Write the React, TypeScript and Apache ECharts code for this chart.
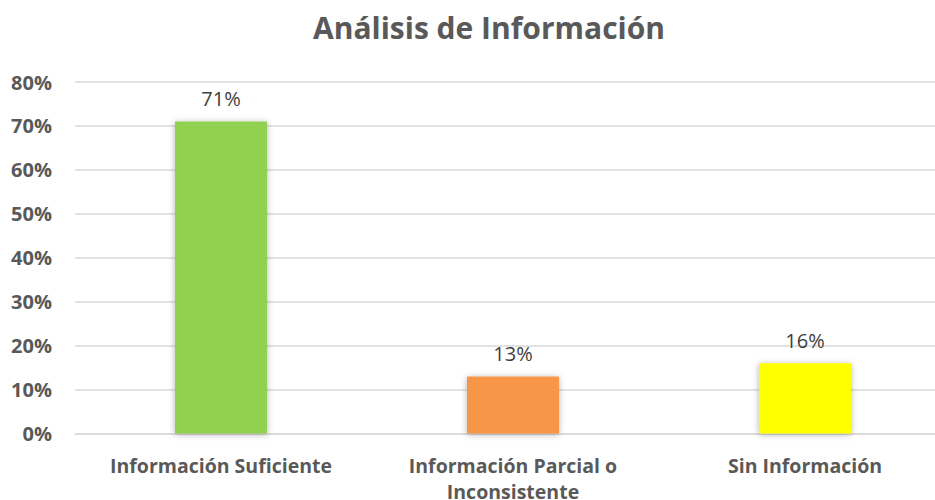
import React, { useEffect, useRef } from "react";
import * as echarts from "echarts";

const categories = ["Información Suficiente", "Información Parcial o\nInconsistente", "Sin Información"];
const values = [71, 13, 16];
const barColors = ["#92D050", "#F79646", "#FFFF00"];
const yTicks = [0, 10, 20, 30, 40, 50, 60, 70, 80];

export default function App() {
  const ref = useRef<HTMLDivElement>(null);
  useEffect(() => {
    const chart = echarts.init(ref.current!, null, { renderer: "svg" });
    chart.setOption({
      animation: false,
      title: {
        text: "Análisis de Información",
        left: 484,
        textAlign: "center",
        top: 7,
        textStyle: { fontFamily: "Open Sans", fontWeight: "bold", fontSize: 30, color: "#595959" },
      },
      grid: { left: 75, top: 82, width: 876, height: 351.5, outerBoundsMode: "none", containLabel: false },
      xAxis: {
        type: "category",
        data: categories,
        axisTick: { show: false },
        axisLine: { lineStyle: { color: "#D9D9D9", width: 1.5 } },
        axisLabel: {
          interval: 0,
          margin: 19,
          fontFamily: "Open Sans",
          fontWeight: "bold",
          fontSize: 19.5,
          color: "#595959",
          lineHeight: 26,
        },
      },
      yAxis: {
        type: "value",
        min: yTicks[0],
        max: yTicks[yTicks.length - 1],
        interval: 10,
        axisLine: { show: false },
        axisTick: { show: false },
        splitLine: { lineStyle: { color: "#D9D9D9", width: 1.5 } },
        axisLabel: {
          formatter: "{value}%",
          margin: 23,
          fontFamily: "Open Sans",
          fontWeight: "bold",
          fontSize: 20,
          color: "#595959",
        },
      },
      series: [
        {
          type: "bar",
          barWidth: 92,
          data: values.map((v, i) => ({
            value: v,
            itemStyle: {
              color: barColors[i],
              shadowBlur: 6,
              shadowColor: "rgba(0,0,0,0.3)",
              shadowOffsetX: 0,
              shadowOffsetY: 1,
            },
          })),
          label: {
            show: true,
            position: "top",
            distance: 13,
            formatter: "{c}%",
            fontFamily: "Open Sans",
            fontSize: 20,
            color: "#404040",
          },
        },
      ],
    });
    return () => chart.dispose();
  }, []);
  return (
    <div
      ref={ref}
      style={{ position: "fixed", left: 0, top: 0, width: 935, height: 500, background: "#fff" }}
    />
  );
}
